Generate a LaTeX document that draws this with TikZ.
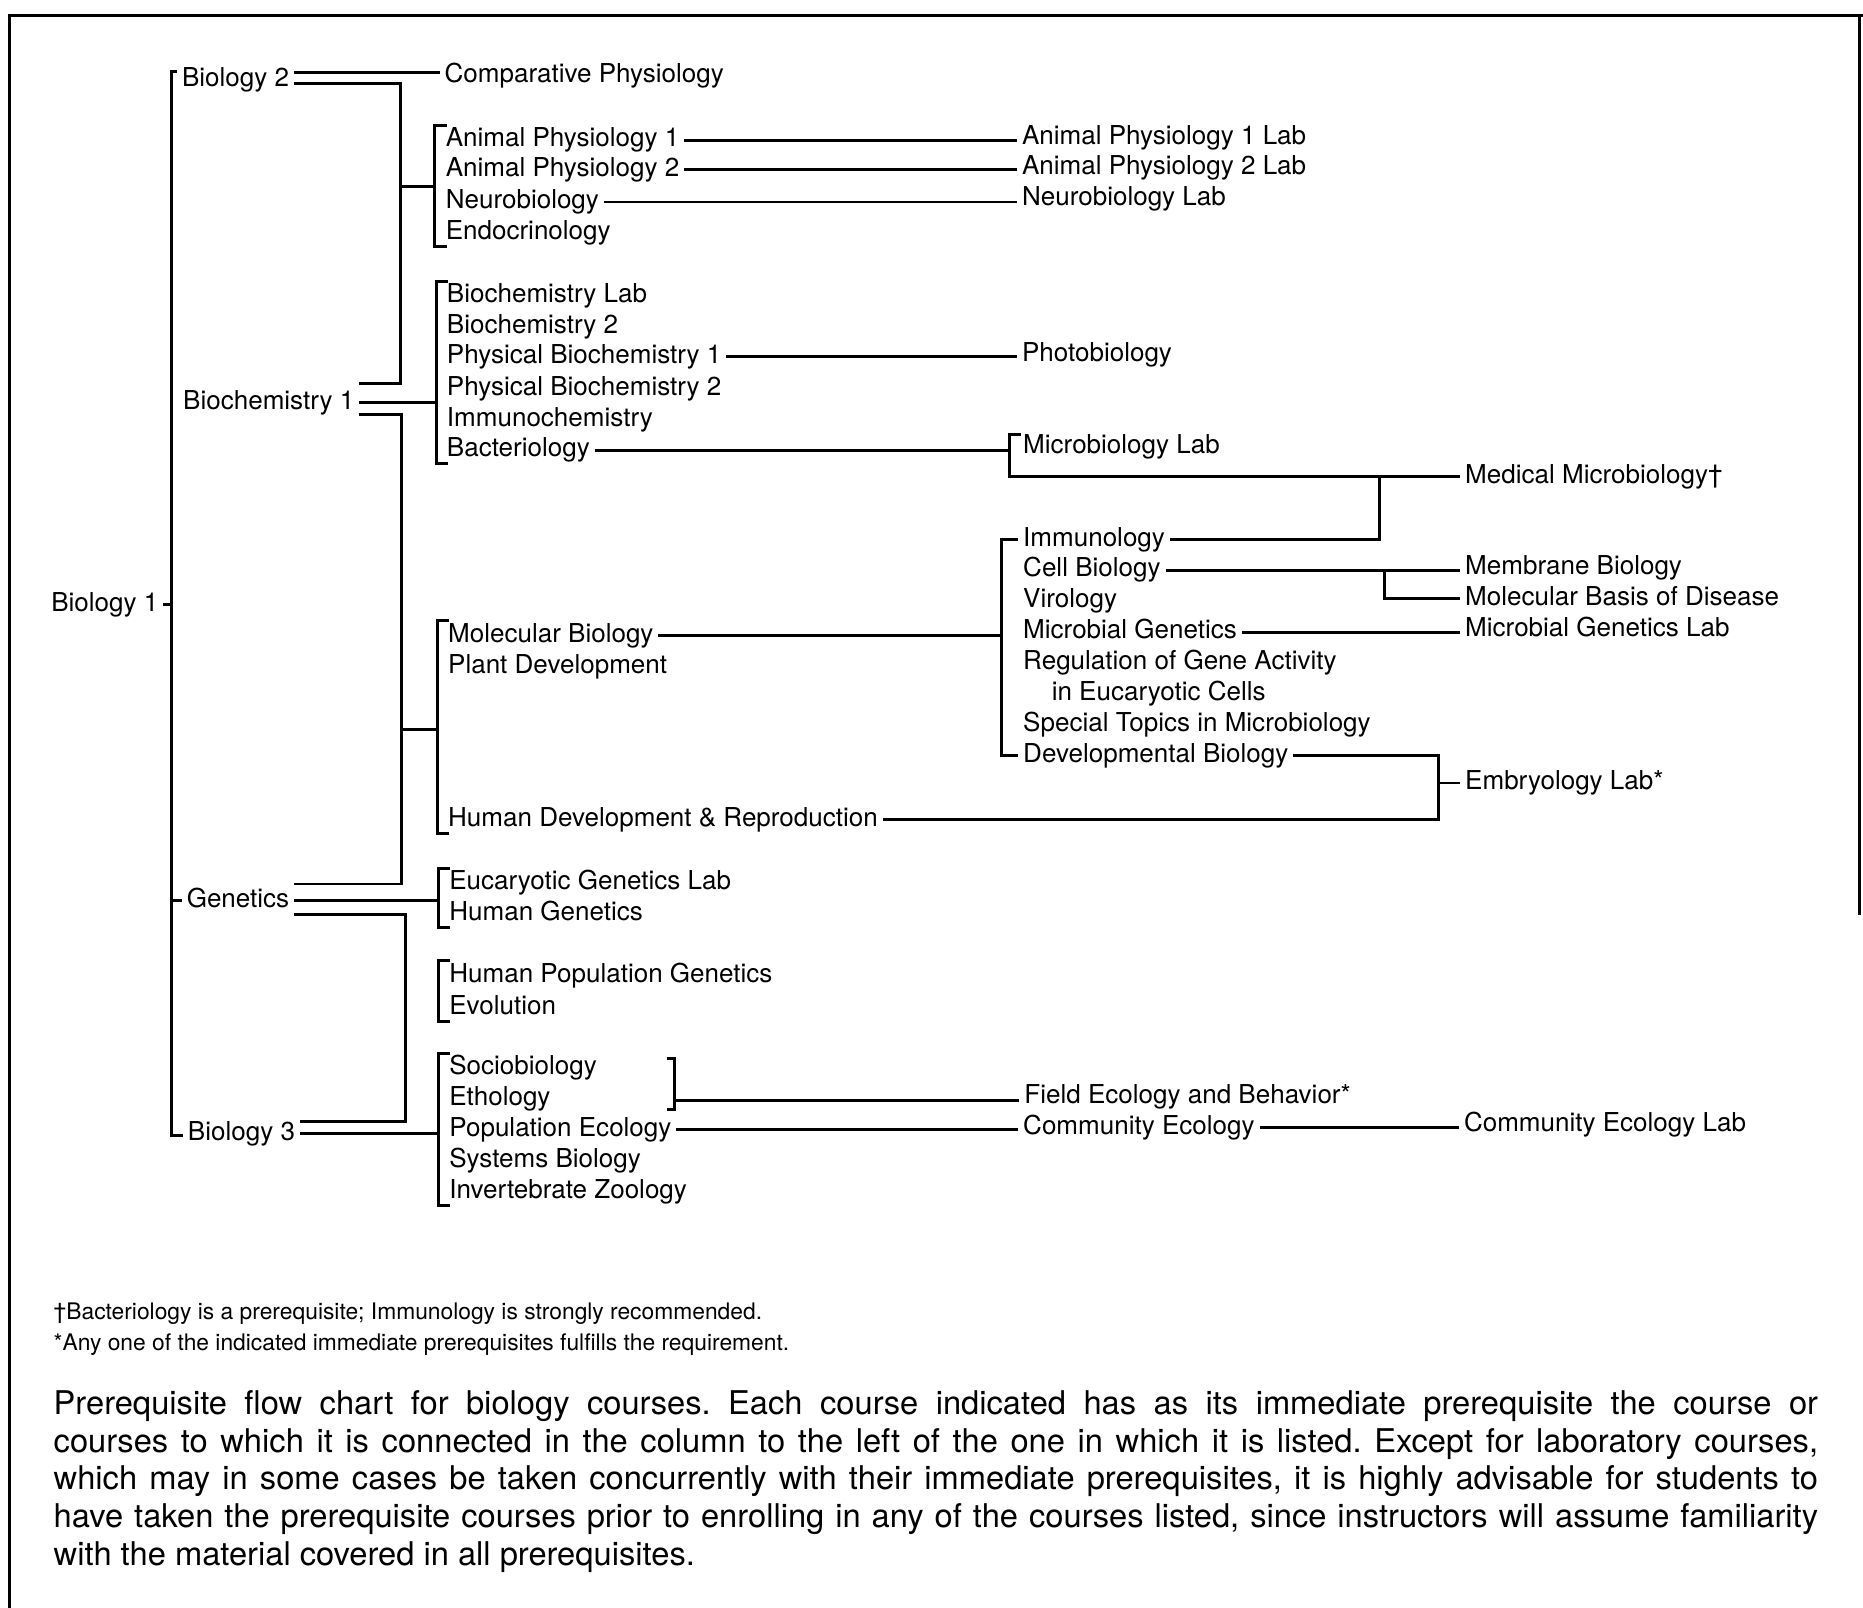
\documentclass[tikz,border=0pt]{standalone}
\usepackage{fontspec}
\setmainfont{TeX Gyre Heros}
\usetikzlibrary{calc}
\frenchspacing
\newcommand{\crsfont}{\fontsize{21.9pt}{26pt}\selectfont}
\tikzset{
  crs/.style={anchor=west, font=\crsfont, inner xsep=4pt, inner ysep=0pt, text height=15.8pt, text depth=4.6pt},
  lnk/.style={line width=2.5pt},
  frm/.style={line width=2pt},
  note/.style={anchor=west, inner sep=0pt, font=\fontsize{19.2pt}{23pt}\selectfont},
}
% "[" bracket round a group of courses, #1 names its x position
\newcommand{\grp}[3]{%
  \coordinate (#1) at ([xshift=-5pt]#2.west);
  \draw[lnk] ([xshift=5pt,yshift=2pt]#2.north west) -- ++(-10pt,0pt) -- ([xshift=-5pt,yshift=-1pt]#3.south west) -- ++(10pt,0pt);}

\begin{document}
\begin{tikzpicture}[x=1pt,y=-1pt]
 \useasboundingbox (0,0) rectangle (1568,1353);
 \draw[frm] (8,1353) -- (8,13) -- (1568,13);
 \draw[frm] (1565,13) -- (1565,770);

 % first two columns
 \node[crs] (bio1) at (39,509) {Biology 1};
 \node[crs] (bio2) at (149,67) {Biology 2};
 \node[crs] (bch1) at (150,339) {Biochemistry 1};
 \node[crs] (gen) at (153,758) {Genetics};
 \node[crs] (bio3) at (154,954) {Biology 3};

 % third column
 \node[crs] (comp) at (370,64) {Comparative Physiology};
 \node[crs] (ap1) at (371,118) {Animal Physiology 1};
 \node[crs] (ap2) at (371,143) {Animal Physiology 2};
 \node[crs] (neuro) at (371,170) {Neurobiology};
 \node[crs] (endo) at (371,196) {Endocrinology};
 \node[crs] (bclab) at (372,249) {Biochemistry Lab};
 \node[crs] (bch2) at (372,275) {Biochemistry 2};
 \node[crs] (pbc1) at (372,300) {Physical Biochemistry 1};
 \node[crs] (pbc2) at (372,327) {Physical Biochemistry 2};
 \node[crs] (imch) at (372,353) {Immunochemistry};
 \node[crs] (bact) at (372,379) {Bacteriology};
 \node[crs] (molb) at (373,535) {Molecular Biology};
 \node[crs] (plant) at (373,561) {Plant Development};
 \node[crs] (hdr) at (373,690) {Human Development \& Reproduction};
 \node[crs] (eglab) at (374,743) {Eucaryotic Genetics Lab};
 \node[crs] (hgen) at (374,769) {Human Genetics};
 \node[crs] (hpg) at (374,821) {Human Population Genetics};
 \node[crs] (evol) at (374,848) {Evolution};
 \node[crs] (socio) at (374,899) {Sociobiology};
 \node[crs] (etho) at (374,925) {Ethology};
 \node[crs] (popeco) at (374,951) {Population Ecology};
 \node[crs] (sysb) at (374,977) {Systems Biology};
 \node[crs] (invz) at (374,1003) {Invertebrate Zoology};

 % fourth column
 \node[crs] (ap1lab) at (856,116) {Animal Physiology 1 Lab};
 \node[crs] (ap2lab) at (856,141) {Animal Physiology 2 Lab};
 \node[crs] (neurlab) at (856,167) {Neurobiology Lab};
 \node[crs] (photo) at (856,299) {Photobiology};
 \node[crs] (mlab) at (857,376) {Microbiology Lab};
 \node[crs] (immu) at (857,454) {Immunology};
 \node[crs] (cellb) at (857,480) {Cell Biology};
 \node[crs] (viro) at (857,506) {Virology};
 \node[crs] (mgen) at (857,532) {Microbial Genetics};
 \node[crs] (regu) at (857,558) {Regulation of Gene Activity};
 \node[crs] (regu2) at (881,584) {in Eucaryotic Cells};
 \node[crs] (spec) at (857,610) {Special Topics in Microbiology};
 \node[crs] (devb) at (857,636) {Developmental Biology};
 \node[crs] (field) at (858,923) {Field Ecology and Behavior*};
 \node[crs] (comeco) at (857,949) {Community Ecology};

 % last column
 \node[crs] (medm) at (1229,401) {Medical Microbiology†};
 \node[crs] (memb) at (1229,478) {Membrane Biology};
 \node[crs] (mbd) at (1229,504) {Molecular Basis of Disease};
 \node[crs] (mglab) at (1229,530) {Microbial Genetics Lab};
 \node[crs] (embr) at (1229,659) {Embryology Lab*};
 \node[crs] (celab) at (1228,947) {Community Ecology Lab};

 % Biology 1
 \coordinate (t1a) at (144,60);
 \coordinate (t1b) at (144,956);
 \draw[lnk] (bio2.west |- t1a) -- (t1a) -- (t1b) -- (bio3.west |- t1b);
 \draw[lnk] (bio1.east) -- (bio1.east -| t1a);
 \draw[lnk] (gen.west) -- (gen.west -| t1a);

 % Biology 2 and Biochemistry 1
 \draw[lnk] (bio2.east |- 0,61) -- (comp.west |- 0,61);
 \coordinate (t2a) at (337,70);
 \coordinate (t2b) at (337,323);
 \coordinate (t2c) at (337,157);
 \draw[lnk] (bio2.east |- t2a) -- (t2a) -- (t2b) -- (bch1.east |- t2b);
 \grp{bAP}{ap1}{endo}
 \draw[lnk] (t2c) -- (t2c -| bAP);
 \grp{bBC}{bclab}{bact}
 \draw[lnk] (bch1.east) -- (bch1.east -| bBC);

 % Biochemistry 1 and Genetics
 \coordinate (t3a) at (338,349);
 \coordinate (t3b) at (338,744);
 \coordinate (t3c) at (338,614);
 \draw[lnk] (bch1.east |- t3a) -- (t3a) -- (t3b) -- (gen.east |- t3b);
 \grp{bMB}{molb}{hdr}
 \draw[lnk] (t3c) -- (t3c -| bMB);

 % Genetics and Biology 3
 \grp{bEG}{eglab}{hgen}
 \draw[lnk] (gen.east) -- (gen.east -| bEG);
 \coordinate (t4a) at (341,770);
 \coordinate (t4b) at (341,944);
 \draw[lnk] (gen.east |- t4a) -- (t4a) -- (t4b) -- (bio3.east |- t4b);
 \grp{bHP}{hpg}{evol}
 \grp{bSO}{socio}{invz}
 \draw[lnk] (bio3.east) -- (bio3.east -| bSO);

 % labs and further courses
 \draw[lnk] (ap1.east) -- (ap1.east -| ap1lab.west);
 \draw[lnk] (ap2.east) -- (ap2.east -| ap2lab.west);
 \draw[lnk] (neuro.east) -- (neuro.east -| neurlab.west);
 \draw[lnk] (pbc1.east) -- (pbc1.east -| photo.west);

 \coordinate (mlb) at (850,401);
 \draw[lnk] (bact.east) -- (bact.east -| mlb);
 \draw[lnk] ([xshift=2pt]mlab.north west) -| (mlb) -- (mlb -| medm.west);
 \coordinate (jmed) at (1161,401);
 \draw[lnk] (immu.east) -| (jmed);

 \coordinate (bIM) at (843,636);
 \draw[lnk] (immu.west) -| (bIM) -- (devb.west);
 \draw[lnk] (molb.east) -- (molb.east -| bIM);

 \draw[lnk] (cellb.east) -- (cellb.east -| memb.west);
 \coordinate (jmem) at (1165,480);
 \draw[lnk] (jmem) |- (mbd.west);
 \draw[lnk] (mgen.east) -- (mgen.east -| mglab.west);

 \coordinate (jemb) at (1211,659);
 \draw[lnk] (devb.east) -| (jemb) -- (embr.west);
 \draw[lnk] (hdr.east) -| (jemb);

 % Sociobiology / Ethology
 \coordinate (sbt) at (568,891);
 \coordinate (sbb) at (568,934);
 \coordinate (sbm) at (568,926);
 \draw[lnk] ([xshift=-7pt]sbt) -- (sbt) -- (sbb) -- ([xshift=-7pt]sbb);
 \draw[lnk] (sbm) -- (sbm -| field.west);
 \draw[lnk] (popeco.east) -- (popeco.east -| comeco.west);
 \draw[lnk] (comeco.east) -- (comeco.east -| celab.west);

 % notes and caption
 \node[note] (fn1) at (45,1106) {†Bacteriology is a prerequisite; Immunology is strongly recommended.};
 \node[note] (fn2) at (45,1132) {*Any one of the indicated immediate prerequisites fulfills the requirement.};
 \node[anchor=north west, inner sep=0pt, text width=1485pt, align=justify, font=\fontsize{27.5pt}{31.8pt}\selectfont] (capt) at (45,1170) {Prerequisite flow chart for biology courses. Each course indicated has as its immediate prerequisite the course or\linebreak courses to which it is connected in the column to the left of the one in which it is listed. Except for laboratory courses,\linebreak which may in some cases be taken concurrently with their immediate prerequisites, it is highly advisable for students to\linebreak have taken the prerequisite courses prior to enrolling in any of the courses listed, since instructors will assume familiarity\linebreak with the material covered in all prerequisites.};
\end{tikzpicture}
\end{document}
